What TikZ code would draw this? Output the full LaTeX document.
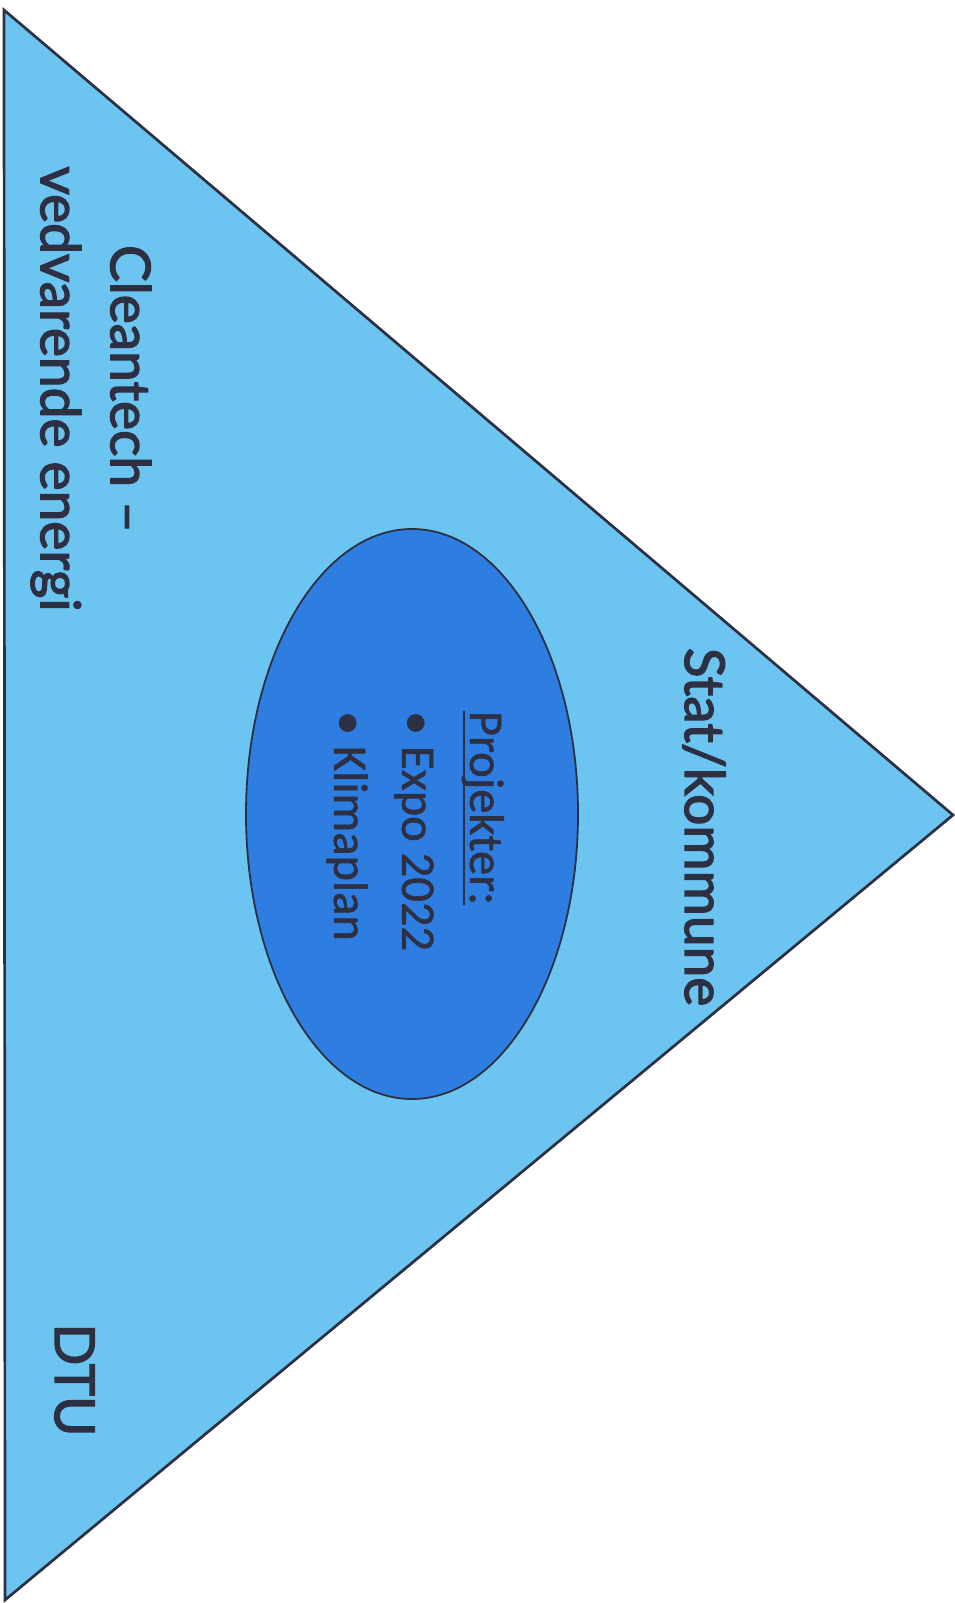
\documentclass[tikz,border=0pt]{standalone}
\usepackage{fontspec}
\setmainfont{Lato}[FakeBold=2.4]
\newfontfamily\calibri{Carlito}[FakeBold=1.2]
\usetikzlibrary{positioning,shapes.geometric}
\definecolor{paleblue}{RGB}{108,196,240}
\definecolor{deepblue}{RGB}{46,126,226}
\definecolor{ink}{RGB}{45,48,66}
\newcommand{\headline}[1]{\setbox0\hbox{#1}\rlap{\rule[-7.2pt]{\wd0}{2.4pt}}\box0}
\tikzset{
  every node/.style={
    text=ink,
    inner sep=0pt
  },
  sidetext/.style={rotate=-90, anchor=base,
    font=\fontsize{55}{70}\selectfont},
  projtext/.style={rotate=-90, align=left,
    font=\calibri\fontsize{48.5}{68}\selectfont}
}

\begin{document}
\begin{tikzpicture}[x=1pt,y=-1pt]
  \useasboundingbox (0,0) rectangle (955,1603);
  \coordinate (TopL) at (4,10); \coordinate (Apex) at (953,815);
  \coordinate (BotL) at (5,1600);
  \draw[draw=ink, line width=2.7pt, fill=paleblue] (TopL) -- (Apex)
    -- (BotL) -- cycle;
  \node[ellipse, draw=ink, line width=1.8pt, fill=deepblue, minimum
    width=332pt, minimum height=570pt] (Proj) at (412,814) {};
  \node[projtext, anchor=center] (ProjList) at (415,831)
    {\headline{Projekter:}\\\textbullet\ Expo 2022\\\textbullet\ Klimaplan};
  \node[sidetext, anchor=center, align=center] (Clean) at (91,389)
    {Cleantech --\\vedvarende energi};
  \node[sidetext] (Stat) at (685,827) {Stat/kommune};
  \node[sidetext] (DTU) at (55,1380) {DTU};
\end{tikzpicture}
\end{document}
